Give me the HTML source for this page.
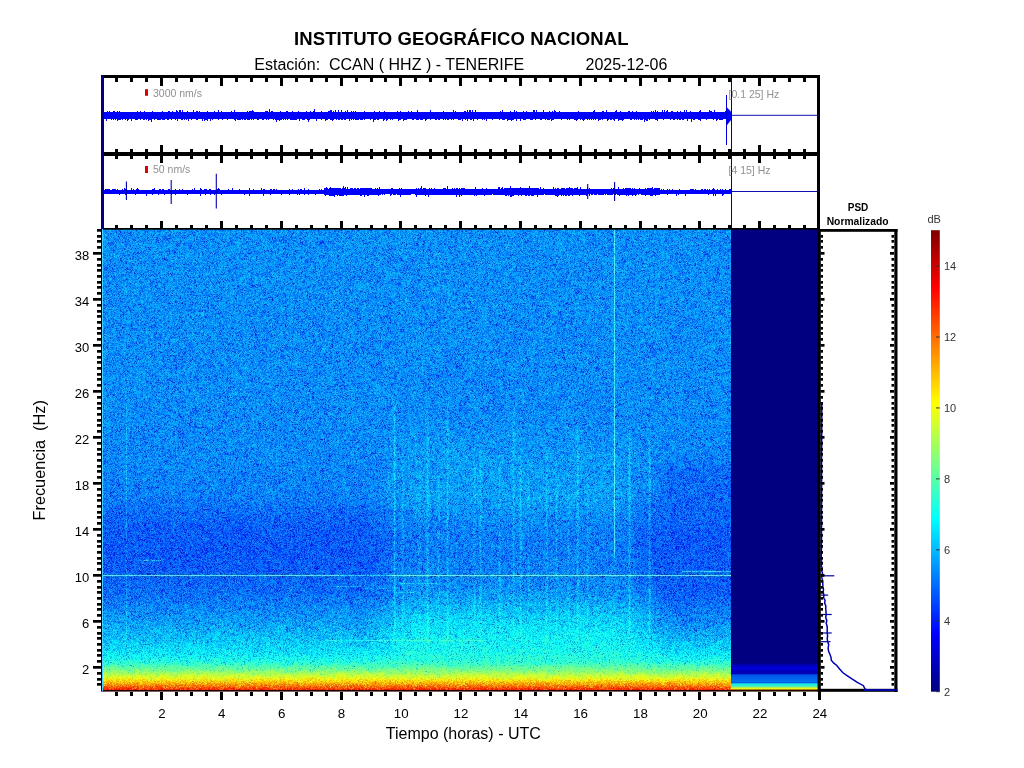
<!DOCTYPE html>
<html><head><meta charset="utf-8"><style>
html,body{margin:0;padding:0;background:#fff;}
body{width:1024px;height:768px;position:relative;overflow:hidden;font-family:"Liberation Sans",sans-serif;}
svg text{font-family:"Liberation Sans",sans-serif;}
#fb{position:absolute;left:101px;top:229px;width:630px;height:462px;background:linear-gradient(to bottom,#0a8cf3 0px,#0a8cf3 12px,#0a90f4 24px,#0a8ff4 36px,#0a91f5 48px,#0b93f6 60px,#0a91f5 72px,#0a91f5 84px,#0a8cf4 96px,#0a8ef5 108px,#0a8cf4 120px,#0a90f4 132px,#0a8ef5 144px,#0a8cf4 156px,#0a8df4 168px,#0a88f4 180px,#0a8ff5 192px,#0a8ff5 204px,#0b93f5 216px,#0a92f5 228px,#098cf4 240px,#0a8af3 252px,#0a88f4 264px,#097ef4 276px,#0a72f4 288px,#0a65f4 300px,#0a61f3 312px,#0961f4 324px,#0a65f4 336px,#0970ed 348px,#0a7af4 360px,#0a8ef5 372px,#0aa3f4 384px,#0cbbf4 396px,#10d0f1 408px,#15e0ed 420px,#16e2eb 422px,#19e5e9 424px,#1de7e3 426px,#21ede0 428px,#25efdc 430px,#2bf0d4 432px,#37f4c8 434px,#49f7b7 436px,#5efaa3 438px,#70f98f 440px,#88fa76 442px,#a4fb5a 444px,#c1fb40 446px,#d7f72a 448px,#eae818 450px,#f2cd0f 452px,#f4ab0c 454px,#f5850b 456px,#f55b0a 458px,#f03009 460px,#200000 461px);}
#nv{position:absolute;left:731px;top:229px;width:87px;height:462px;
background:linear-gradient(to bottom,#000080 0px,#000080 434px,#0000c8 437px,#0000dc 440px,#0000b4 442.5px,#0000b8 444.5px,#0058e8 446px,#0070f0 452.5px,#0060e0 453.5px,#20e8e8 455px,#30f0d0 457px,#b0f050 458.5px,#ffff00 460px,#600800 461px,#200000 462px);}
canvas{position:absolute;left:101px;top:229px;}
svg{position:absolute;left:0;top:0;}
</style></head><body>
<div id="fb"></div><div id="nv"></div>
<canvas id="cv" width="630" height="462"></canvas>
<svg width="1024" height="768" viewBox="0 0 1024 768">
<text x="461.30" y="44.80" font-size="18.5" text-anchor="middle" font-weight="bold" fill="#000" letter-spacing="0.1">INSTITUTO GEOGRÁFICO NACIONAL</text>
<text x="254.30" y="69.80" font-size="16" text-anchor="start" font-weight="normal" fill="#000" xml:space="preserve">Estación:  CCAN ( HHZ ) - TENERIFE</text>
<text x="585.50" y="69.80" font-size="16" text-anchor="start" font-weight="normal" fill="#000" >2025-12-06</text>
<path d="M102 112L102 112H103L103 112H104L104 112H105L105 112H106L106 112H107L107 111H108L108 112H109L109 111H110L110 112H111L111 112H112L112 112H113L113 111H114L114 111H115L115 112H116L116 112H117L117 111H118L118 112H119L119 111H120L120 112H121L121 112H122L122 112H123L123 112H124L124 112H125L125 112H126L126 112H127L127 112H128L128 112H129L129 112H130L130 112H131L131 112H132L132 112H133L133 112H134L134 112H135L135 112H136L136 112H137L137 111H138L138 112H139L139 112H140L140 111H141L141 112H142L142 112H143L143 112H144L144 111H145L145 112H146L146 112H147L147 112H148L148 112H149L149 112H150L150 112H151L151 112H152L152 111H153L153 112H154L154 112H155L155 112H156L156 112H157L157 112H158L158 112H159L159 112H160L160 112H161L161 112H162L162 111H163L163 112H164L164 112H165L165 112H166L166 112H167L167 112H168L168 111H169L169 111H170L170 112H171L171 112H172L172 111H173L173 112H174L174 112H175L175 112H176L176 110H177L177 111H178L178 112H179L179 110H180L180 110H181L181 112H182L182 110H183L183 112H184L184 112H185L185 112H186L186 112H187L187 111H188L188 112H189L189 112H190L190 112H191L191 112H192L192 112H193L193 110H194L194 112H195L195 112H196L196 111H197L197 111H198L198 112H199L199 111H200L200 112H201L201 112H202L202 112H203L203 112H204L204 112H205L205 112H206L206 112H207L207 111H208L208 112H209L209 112H210L210 112H211L211 112H212L212 112H213L213 112H214L214 111H215L215 112H216L216 112H217L217 112H218L218 110H219L219 112H220L220 112H221L221 111H222L222 112H223L223 112H224L224 112H225L225 112H226L226 112H227L227 112H228L228 112H229L229 112H230L230 112H231L231 111H232L232 112H233L233 112H234L234 110H235L235 112H236L236 112H237L237 112H238L238 112H239L239 112H240L240 112H241L241 112H242L242 112H243L243 112H244L244 112H245L245 112H246L246 112H247L247 111H248L248 112H249L249 111H250L250 111H251L251 111H252L252 110H253L253 111H254L254 112H255L255 112H256L256 112H257L257 112H258L258 112H259L259 112H260L260 112H261L261 112H262L262 112H263L263 112H264L264 112H265L265 111H266L266 111H267L267 111H268L268 112H269L269 109H270L270 112H271L271 111H272L272 111H273L273 112H274L274 112H275L275 112H276L276 112H277L277 112H278L278 112H279L279 112H280L280 111H281L281 112H282L282 112H283L283 112H284L284 112H285L285 112H286L286 111H287L287 111H288L288 112H289L289 112H290L290 112H291L291 112H292L292 111H293L293 112H294L294 112H295L295 112H296L296 112H297L297 112H298L298 111H299L299 112H300L300 112H301L301 112H302L302 112H303L303 112H304L304 112H305L305 112H306L306 111H307L307 112H308L308 112H309L309 112H310L310 111H311L311 112H312L312 112H313L313 111H314L314 109H315L315 112H316L316 112H317L317 112H318L318 112H319L319 112H320L320 112H321L321 111H322L322 112H323L323 112H324L324 112H325L325 112H326L326 112H327L327 112H328L328 111H329L329 111H330L330 110H331L331 110H332L332 112H333L333 111H334L334 112H335L335 110H336L336 112H337L337 112H338L338 110H339L339 112H340L340 112H341L341 110H342L342 112H343L343 112H344L344 112H345L345 111H346L346 112H347L347 110H348L348 112H349L349 112H350L350 112H351L351 111H352L352 112H353L353 111H354L354 112H355L355 111H356L356 112H357L357 112H358L358 112H359L359 112H360L360 112H361L361 112H362L362 112H363L363 112H364L364 111H365L365 112H366L366 112H367L367 112H368L368 112H369L369 112H370L370 112H371L371 112H372L372 112H373L373 112H374L374 111H375L375 112H376L376 112H377L377 112H378L378 112H379L379 111H380L380 112H381L381 112H382L382 112H383L383 112H384L384 111H385L385 112H386L386 112H387L387 112H388L388 112H389L389 112H390L390 112H391L391 112H392L392 112H393L393 112H394L394 112H395L395 112H396L396 112H397L397 111H398L398 112H399L399 112H400L400 111H401L401 112H402L402 112H403L403 112H404L404 112H405L405 112H406L406 112H407L407 112H408L408 111H409L409 112H410L410 112H411L411 111H412L412 112H413L413 112H414L414 112H415L415 112H416L416 112H417L417 110H418L418 112H419L419 112H420L420 112H421L421 112H422L422 112H423L423 112H424L424 112H425L425 112H426L426 112H427L427 112H428L428 112H429L429 112H430L430 110H431L431 112H432L432 112H433L433 112H434L434 112H435L435 112H436L436 112H437L437 112H438L438 112H439L439 112H440L440 112H441L441 112H442L442 112H443L443 111H444L444 112H445L445 112H446L446 112H447L447 112H448L448 112H449L449 112H450L450 112H451L451 112H452L452 112H453L453 110H454L454 112H455L455 111H456L456 112H457L457 112H458L458 112H459L459 112H460L460 112H461L461 112H462L462 112H463L463 112H464L464 111H465L465 111H466L466 112H467L467 110H468L468 112H469L469 110H470L470 110H471L471 112H472L472 110H473L473 112H474L474 112H475L475 110H476L476 112H477L477 112H478L478 112H479L479 112H480L480 112H481L481 112H482L482 112H483L483 112H484L484 112H485L485 112H486L486 112H487L487 112H488L488 112H489L489 112H490L490 112H491L491 112H492L492 112H493L493 112H494L494 112H495L495 112H496L496 112H497L497 112H498L498 112H499L499 112H500L500 111H501L501 112H502L502 110H503L503 112H504L504 112H505L505 112H506L506 112H507L507 112H508L508 112H509L509 112H510L510 111H511L511 112H512L512 112H513L513 112H514L514 110H515L515 112H516L516 111H517L517 112H518L518 112H519L519 112H520L520 112H521L521 112H522L522 112H523L523 111H524L524 112H525L525 112H526L526 111H527L527 112H528L528 112H529L529 112H530L530 112H531L531 112H532L532 112H533L533 110H534L534 110H535L535 112H536L536 110H537L537 112H538L538 112H539L539 112H540L540 112H541L541 112H542L542 112H543L543 110H544L544 112H545L545 112H546L546 112H547L547 112H548L548 112H549L549 111H550L550 112H551L551 112H552L552 111H553L553 112H554L554 110H555L555 111H556L556 112H557L557 112H558L558 112H559L559 111H560L560 112H561L561 112H562L562 112H563L563 112H564L564 112H565L565 112H566L566 112H567L567 112H568L568 112H569L569 112H570L570 112H571L571 112H572L572 112H573L573 112H574L574 112H575L575 112H576L576 112H577L577 112H578L578 111H579L579 112H580L580 112H581L581 112H582L582 112H583L583 112H584L584 112H585L585 112H586L586 112H587L587 112H588L588 112H589L589 112H590L590 112H591L591 112H592L592 112H593L593 111H594L594 110H595L595 112H596L596 112H597L597 112H598L598 112H599L599 112H600L600 112H601L601 112H602L602 111H603L603 111H604L604 112H605L605 112H606L606 110H607L607 112H608L608 112H609L609 112H610L610 112H611L611 112H612L612 112H613L613 112H614L614 112H615L615 111H616L616 110H617L617 112H618L618 112H619L619 112H620L620 111H621L621 112H622L622 112H623L623 112H624L624 112H625L625 112H626L626 112H627L627 112H628L628 111H629L629 111H630L630 112H631L631 112H632L632 111H633L633 112H634L634 112H635L635 112H636L636 111H637L637 112H638L638 112H639L639 112H640L640 112H641L641 112H642L642 112H643L643 112H644L644 112H645L645 112H646L646 112H647L647 112H648L648 112H649L649 112H650L650 112H651L651 111H652L652 112H653L653 111H654L654 112H655L655 110H656L656 112H657L657 111H658L658 112H659L659 112H660L660 112H661L661 112H662L662 110H663L663 112H664L664 110H665L665 112H666L666 111H667L667 110H668L668 112H669L669 112H670L670 112H671L671 111H672L672 111H673L673 112H674L674 112H675L675 112H676L676 112H677L677 111H678L678 112H679L679 112H680L680 111H681L681 112H682L682 112H683L683 112H684L684 110H685L685 112H686L686 110H687L687 112H688L688 112H689L689 112H690L690 111H691L691 112H692L692 112H693L693 112H694L694 112H695L695 112H696L696 112H697L697 112H698L698 112H699L699 111H700L700 110H701L701 112H702L702 112H703L703 112H704L704 112H705L705 112H706L706 112H707L707 112H708L708 112H709L709 110H710L710 111H711L711 111H712L712 112H713L713 112H714L714 110H715L715 112H716L716 112H717L717 112H718L718 112H719L719 112H720L720 112H721L721 112H722L722 112H723L723 112H724L724 112H725L725 111H726L726 112H727L727 111H728L728 111H729L729 112H730L730 112H731L731 112H732L732 119H731L731 119H730L730 119H729L729 119H728L728 119H727L727 119H726L726 119H725L725 119H724L724 119H723L723 120H722L722 120H721L721 120H720L720 120H719L719 119H718L718 120H717L717 121H716L716 119H715L715 119H714L714 120H713L713 119H712L712 119H711L711 119H710L710 119H709L709 119H708L708 119H707L707 120H706L706 119H705L705 119H704L704 119H703L703 119H702L702 119H701L701 121H700L700 120H699L699 120H698L698 119H697L697 119H696L696 119H695L695 120H694L694 120H693L693 119H692L692 122H691L691 119H690L690 119H689L689 119H688L688 121H687L687 119H686L686 119H685L685 119H684L684 120H683L683 120H682L682 119H681L681 120H680L680 120H679L679 119H678L678 120H677L677 119H676L676 119H675L675 120H674L674 120H673L673 119H672L672 119H671L671 120H670L670 119H669L669 119H668L668 119H667L667 119H666L666 119H665L665 119H664L664 120H663L663 119H662L662 119H661L661 119H660L660 119H659L659 119H658L658 121H657L657 120H656L656 120H655L655 119H654L654 119H653L653 119H652L652 119H651L651 119H650L650 120H649L649 119H648L648 121H647L647 121H646L646 120H645L645 122H644L644 119H643L643 120H642L642 120H641L641 120H640L640 119H639L639 120H638L638 119H637L637 120H636L636 119H635L635 120H634L634 119H633L633 119H632L632 120H631L631 120H630L630 119H629L629 119H628L628 119H627L627 119H626L626 119H625L625 119H624L624 120H623L623 121H622L622 120H621L621 120H620L620 120H619L619 121H618L618 119H617L617 119H616L616 119H615L615 121H614L614 120H613L613 119H612L612 120H611L611 120H610L610 119H609L609 120H608L608 121H607L607 119H606L606 119H605L605 119H604L604 119H603L603 120H602L602 119H601L601 120H600L600 120H599L599 121H598L598 119H597L597 119H596L596 120H595L595 119H594L594 120H593L593 119H592L592 120H591L591 119H590L590 120H589L589 119H588L588 120H587L587 119H586L586 119H585L585 120H584L584 121H583L583 120H582L582 119H581L581 120H580L580 119H579L579 119H578L578 120H577L577 121H576L576 120H575L575 120H574L574 119H573L573 119H572L572 119H571L571 119H570L570 120H569L569 119H568L568 120H567L567 119H566L566 119H565L565 119H564L564 119H563L563 119H562L562 120H561L561 119H560L560 119H559L559 119H558L558 119H557L557 119H556L556 119H555L555 119H554L554 120H553L553 120H552L552 121H551L551 119H550L550 120H549L549 120H548L548 120H547L547 119H546L546 120H545L545 119H544L544 119H543L543 119H542L542 120H541L541 120H540L540 119H539L539 119H538L538 119H537L537 119H536L536 120H535L535 119H534L534 119H533L533 120H532L532 120H531L531 120H530L530 119H529L529 119H528L528 119H527L527 119H526L526 120H525L525 120H524L524 120H523L523 119H522L522 119H521L521 121H520L520 119H519L519 119H518L518 119H517L517 121H516L516 119H515L515 119H514L514 120H513L513 120H512L512 121H511L511 120H510L510 120H509L509 120H508L508 121H507L507 119H506L506 119H505L505 120H504L504 120H503L503 120H502L502 119H501L501 119H500L500 120H499L499 119H498L498 119H497L497 119H496L496 119H495L495 119H494L494 119H493L493 120H492L492 119H491L491 119H490L490 119H489L489 119H488L488 119H487L487 121H486L486 119H485L485 120H484L484 119H483L483 120H482L482 119H481L481 119H480L480 119H479L479 119H478L478 120H477L477 119H476L476 119H475L475 119H474L474 121H473L473 119H472L472 120H471L471 120H470L470 119H469L469 119H468L468 121H467L467 119H466L466 120H465L465 119H464L464 119H463L463 121H462L462 119H461L461 120H460L460 120H459L459 120H458L458 119H457L457 119H456L456 119H455L455 119H454L454 120H453L453 119H452L452 120H451L451 119H450L450 119H449L449 120H448L448 120H447L447 119H446L446 120H445L445 119H444L444 120H443L443 119H442L442 119H441L441 119H440L440 120H439L439 120H438L438 119H437L437 120H436L436 120H435L435 119H434L434 119H433L433 119H432L432 119H431L431 120H430L430 119H429L429 119H428L428 119H427L427 120H426L426 121H425L425 119H424L424 119H423L423 120H422L422 120H421L421 120H420L420 119H419L419 120H418L418 120H417L417 120H416L416 119H415L415 119H414L414 120H413L413 120H412L412 119H411L411 119H410L410 119H409L409 119H408L408 119H407L407 120H406L406 120H405L405 120H404L404 121H403L403 119H402L402 119H401L401 120H400L400 120H399L399 121H398L398 119H397L397 119H396L396 119H395L395 119H394L394 119H393L393 120H392L392 119H391L391 120H390L390 119H389L389 119H388L388 120H387L387 121H386L386 119H385L385 120H384L384 121H383L383 119H382L382 119H381L381 119H380L380 119H379L379 120H378L378 120H377L377 119H376L376 120H375L375 120H374L374 122H373L373 119H372L372 119H371L371 120H370L370 119H369L369 119H368L368 119H367L367 119H366L366 119H365L365 120H364L364 119H363L363 120H362L362 120H361L361 120H360L360 119H359L359 120H358L358 120H357L357 120H356L356 120H355L355 119H354L354 120H353L353 119H352L352 120H351L351 119H350L350 121H349L349 119H348L348 119H347L347 119H346L346 120H345L345 120H344L344 119H343L343 120H342L342 120H341L341 119H340L340 120H339L339 120H338L338 119H337L337 120H336L336 119H335L335 119H334L334 120H333L333 121H332L332 120H331L331 120H330L330 119H329L329 119H328L328 120H327L327 120H326L326 121H325L325 119H324L324 119H323L323 119H322L322 120H321L321 119H320L320 119H319L319 119H318L318 119H317L317 121H316L316 119H315L315 119H314L314 119H313L313 119H312L312 119H311L311 119H310L310 120H309L309 122H308L308 120H307L307 119H306L306 119H305L305 120H304L304 120H303L303 120H302L302 119H301L301 119H300L300 121H299L299 119H298L298 119H297L297 120H296L296 120H295L295 120H294L294 120H293L293 120H292L292 120H291L291 120H290L290 119H289L289 119H288L288 120H287L287 119H286L286 120H285L285 119H284L284 120H283L283 119H282L282 120H281L281 120H280L280 121H279L279 120H278L278 120H277L277 122H276L276 120H275L275 119H274L274 120H273L273 119H272L272 119H271L271 119H270L270 119H269L269 120H268L268 119H267L267 120H266L266 119H265L265 119H264L264 120H263L263 120H262L262 119H261L261 119H260L260 119H259L259 120H258L258 120H257L257 119H256L256 119H255L255 119H254L254 120H253L253 119H252L252 120H251L251 119H250L250 120H249L249 120H248L248 120H247L247 119H246L246 120H245L245 120H244L244 119H243L243 120H242L242 119H241L241 120H240L240 120H239L239 120H238L238 120H237L237 119H236L236 121H235L235 120H234L234 119H233L233 119H232L232 119H231L231 119H230L230 119H229L229 119H228L228 120H227L227 119H226L226 119H225L225 119H224L224 119H223L223 120H222L222 119H221L221 119H220L220 119H219L219 120H218L218 119H217L217 119H216L216 119H215L215 119H214L214 119H213L213 120H212L212 119H211L211 121H210L210 119H209L209 119H208L208 121H207L207 120H206L206 120H205L205 121H204L204 119H203L203 121H202L202 119H201L201 119H200L200 119H199L199 119H198L198 120H197L197 120H196L196 119H195L195 119H194L194 119H193L193 119H192L192 120H191L191 119H190L190 119H189L189 121H188L188 119H187L187 120H186L186 119H185L185 120H184L184 119H183L183 120H182L182 120H181L181 119H180L180 119H179L179 119H178L178 121H177L177 119H176L176 120H175L175 119H174L174 119H173L173 119H172L172 120H171L171 119H170L170 119H169L169 120H168L168 120H167L167 119H166L166 119H165L165 120H164L164 120H163L163 120H162L162 119H161L161 120H160L160 120H159L159 120H158L158 120H157L157 119H156L156 119H155L155 120H154L154 119H153L153 119H152L152 122H151L151 120H150L150 120H149L149 121H148L148 119H147L147 120H146L146 119H145L145 120H144L144 120H143L143 119H142L142 119H141L141 120H140L140 119H139L139 119H138L138 120H137L137 120H136L136 120H135L135 119H134L134 119H133L133 119H132L132 121H131L131 119H130L130 119H129L129 120H128L128 121H127L127 119H126L126 120H125L125 119H124L124 119H123L123 120H122L122 119H121L121 120H120L120 120H119L119 120H118L118 121H117L117 119H116L116 120H115L115 119H114L114 120H113L113 119H112L112 120H111L111 119H110L110 119H109L109 119H108L108 119H107L107 121H106L106 119H105L105 119H104L104 120H103L103 120H102Z" fill="#0000ff" shape-rendering="crispEdges"/>
<path d="M726 106.5 L731 111.5 L731 120 L726 126.5Z" fill="#0000ff"/>
<path d="M726.5 95V145" stroke="#0000e0" stroke-width="1"/>
<path d="M102 190L102 190H103L103 190H104L104 190H105L105 189H106L106 189H107L107 189H108L108 189H109L109 189H110L110 190H111L111 190H112L112 189H113L113 189H114L114 189H115L115 189H116L116 190H117L117 189H118L118 190H119L119 190H120L120 190H121L121 190H122L122 189H123L123 190H124L124 188H125L125 189H126L126 189H127L127 190H128L128 190H129L129 190H130L130 190H131L131 188H132L132 190H133L133 189H134L134 190H135L135 190H136L136 189H137L137 188H138L138 189H139L139 190H140L140 190H141L141 190H142L142 190H143L143 190H144L144 190H145L145 190H146L146 190H147L147 190H148L148 190H149L149 190H150L150 190H151L151 190H152L152 189H153L153 189H154L154 188H155L155 190H156L156 190H157L157 190H158L158 190H159L159 189H160L160 189H161L161 190H162L162 189H163L163 189H164L164 190H165L165 190H166L166 190H167L167 190H168L168 189H169L169 189H170L170 190H171L171 190H172L172 190H173L173 190H174L174 190H175L175 189H176L176 190H177L177 190H178L178 190H179L179 189H180L180 190H181L181 190H182L182 189H183L183 190H184L184 190H185L185 190H186L186 190H187L187 190H188L188 190H189L189 190H190L190 190H191L191 190H192L192 189H193L193 190H194L194 188H195L195 190H196L196 190H197L197 190H198L198 190H199L199 190H200L200 188H201L201 189H202L202 190H203L203 190H204L204 189H205L205 189H206L206 189H207L207 190H208L208 190H209L209 189H210L210 189H211L211 190H212L212 190H213L213 190H214L214 190H215L215 190H216L216 190H217L217 189H218L218 188H219L219 189H220L220 190H221L221 190H222L222 190H223L223 190H224L224 190H225L225 190H226L226 190H227L227 190H228L228 189H229L229 190H230L230 190H231L231 190H232L232 188H233L233 190H234L234 190H235L235 190H236L236 190H237L237 190H238L238 190H239L239 189H240L240 190H241L241 190H242L242 190H243L243 190H244L244 190H245L245 190H246L246 190H247L247 190H248L248 190H249L249 188H250L250 190H251L251 190H252L252 190H253L253 189H254L254 190H255L255 190H256L256 190H257L257 190H258L258 190H259L259 190H260L260 190H261L261 188H262L262 190H263L263 189H264L264 189H265L265 190H266L266 190H267L267 190H268L268 190H269L269 190H270L270 189H271L271 189H272L272 190H273L273 189H274L274 189H275L275 190H276L276 189H277L277 190H278L278 190H279L279 190H280L280 190H281L281 190H282L282 190H283L283 190H284L284 190H285L285 190H286L286 190H287L287 190H288L288 190H289L289 189H290L290 190H291L291 190H292L292 189H293L293 190H294L294 190H295L295 190H296L296 190H297L297 190H298L298 189H299L299 190H300L300 189H301L301 189H302L302 190H303L303 190H304L304 188H305L305 190H306L306 190H307L307 190H308L308 189H309L309 190H310L310 190H311L311 190H312L312 190H313L313 190H314L314 190H315L315 190H316L316 190H317L317 190H318L318 190H319L319 189H320L320 190H321L321 189H322L322 190H323L323 190H324L324 188H325L325 188H326L326 187H327L327 188H328L328 189H329L329 188H330L330 187H331L331 188H332L332 188H333L333 188H334L334 188H335L335 188H336L336 188H337L337 188H338L338 188H339L339 188H340L340 188H341L341 189H342L342 188H343L343 186H344L344 188H345L345 187H346L346 189H347L347 187H348L348 189H349L349 189H350L350 188H351L351 188H352L352 188H353L353 189H354L354 188H355L355 188H356L356 189H357L357 188H358L358 188H359L359 189H360L360 188H361L361 188H362L362 188H363L363 188H364L364 188H365L365 188H366L366 188H367L367 188H368L368 188H369L369 188H370L370 188H371L371 188H372L372 189H373L373 189H374L374 189H375L375 188H376L376 189H377L377 188H378L378 189H379L379 187H380L380 189H381L381 189H382L382 189H383L383 189H384L384 189H385L385 189H386L386 189H387L387 189H388L388 189H389L389 189H390L390 189H391L391 188H392L392 188H393L393 189H394L394 189H395L395 189H396L396 189H397L397 189H398L398 189H399L399 188H400L400 189H401L401 188H402L402 189H403L403 189H404L404 189H405L405 189H406L406 189H407L407 189H408L408 189H409L409 189H410L410 189H411L411 189H412L412 189H413L413 189H414L414 189H415L415 189H416L416 188H417L417 189H418L418 188H419L419 189H420L420 188H421L421 186H422L422 189H423L423 188H424L424 188H425L425 188H426L426 189H427L427 189H428L428 189H429L429 188H430L430 189H431L431 188H432L432 189H433L433 189H434L434 188H435L435 189H436L436 189H437L437 189H438L438 189H439L439 189H440L440 189H441L441 189H442L442 189H443L443 188H444L444 188H445L445 188H446L446 189H447L447 186H448L448 189H449L449 189H450L450 189H451L451 189H452L452 188H453L453 189H454L454 188H455L455 189H456L456 188H457L457 188H458L458 189H459L459 188H460L460 189H461L461 188H462L462 188H463L463 188H464L464 188H465L465 189H466L466 189H467L467 189H468L468 189H469L469 189H470L470 189H471L471 189H472L472 189H473L473 189H474L474 189H475L475 187H476L476 189H477L477 189H478L478 189H479L479 189H480L480 189H481L481 189H482L482 188H483L483 189H484L484 189H485L485 189H486L486 188H487L487 189H488L488 189H489L489 189H490L490 189H491L491 189H492L492 189H493L493 189H494L494 189H495L495 189H496L496 189H497L497 189H498L498 187H499L499 187H500L500 189H501L501 188H502L502 187H503L503 189H504L504 188H505L505 188H506L506 188H507L507 188H508L508 188H509L509 188H510L510 186H511L511 188H512L512 188H513L513 188H514L514 188H515L515 188H516L516 188H517L517 188H518L518 188H519L519 188H520L520 187H521L521 188H522L522 188H523L523 188H524L524 188H525L525 188H526L526 188H527L527 188H528L528 188H529L529 186H530L530 188H531L531 188H532L532 188H533L533 188H534L534 188H535L535 188H536L536 188H537L537 188H538L538 188H539L539 189H540L540 187H541L541 189H542L542 189H543L543 188H544L544 189H545L545 189H546L546 189H547L547 189H548L548 189H549L549 189H550L550 189H551L551 189H552L552 189H553L553 187H554L554 189H555L555 188H556L556 189H557L557 188H558L558 188H559L559 189H560L560 189H561L561 188H562L562 188H563L563 188H564L564 188H565L565 189H566L566 188H567L567 188H568L568 188H569L569 187H570L570 188H571L571 188H572L572 188H573L573 189H574L574 188H575L575 188H576L576 188H577L577 187H578L578 189H579L579 189H580L580 187H581L581 189H582L582 189H583L583 189H584L584 189H585L585 189H586L586 189H587L587 187H588L588 189H589L589 188H590L590 189H591L591 189H592L592 189H593L593 189H594L594 189H595L595 189H596L596 189H597L597 189H598L598 189H599L599 189H600L600 189H601L601 189H602L602 189H603L603 189H604L604 189H605L605 189H606L606 189H607L607 189H608L608 189H609L609 189H610L610 189H611L611 188H612L612 189H613L613 188H614L614 188H615L615 189H616L616 189H617L617 189H618L618 187H619L619 189H620L620 189H621L621 189H622L622 189H623L623 188H624L624 189H625L625 188H626L626 188H627L627 188H628L628 188H629L629 188H630L630 188H631L631 189H632L632 188H633L633 189H634L634 188H635L635 189H636L636 189H637L637 189H638L638 189H639L639 188H640L640 189H641L641 189H642L642 189H643L643 189H644L644 189H645L645 188H646L646 189H647L647 188H648L648 188H649L649 188H650L650 188H651L651 188H652L652 187H653L653 189H654L654 188H655L655 188H656L656 188H657L657 188H658L658 188H659L659 188H660L660 190H661L661 189H662L662 190H663L663 189H664L664 190H665L665 190H666L666 190H667L667 189H668L668 190H669L669 189H670L670 190H671L671 190H672L672 189H673L673 190H674L674 190H675L675 190H676L676 190H677L677 190H678L678 190H679L679 189H680L680 190H681L681 190H682L682 190H683L683 190H684L684 190H685L685 190H686L686 190H687L687 190H688L688 190H689L689 190H690L690 189H691L691 189H692L692 189H693L693 189H694L694 190H695L695 189H696L696 190H697L697 190H698L698 190H699L699 190H700L700 190H701L701 189H702L702 189H703L703 190H704L704 189H705L705 189H706L706 190H707L707 189H708L708 190H709L709 189H710L710 190H711L711 190H712L712 189H713L713 188H714L714 189H715L715 190H716L716 190H717L717 189H718L718 190H719L719 190H720L720 189H721L721 190H722L722 189H723L723 190H724L724 190H725L725 189H726L726 190H727L727 190H728L728 190H729L729 189H730L730 189H731L731 190H732L732 194H731L731 194H730L730 194H729L729 194H728L728 194H727L727 194H726L726 194H725L725 194H724L724 195H723L723 196H722L722 194H721L721 194H720L720 194H719L719 194H718L718 194H717L717 194H716L716 196H715L715 194H714L714 196H713L713 194H712L712 194H711L711 194H710L710 194H709L709 195H708L708 194H707L707 194H706L706 194H705L705 194H704L704 194H703L703 194H702L702 194H701L701 194H700L700 194H699L699 194H698L698 194H697L697 194H696L696 194H695L695 194H694L694 194H693L693 194H692L692 194H691L691 194H690L690 194H689L689 194H688L688 194H687L687 194H686L686 196H685L685 194H684L684 194H683L683 194H682L682 194H681L681 194H680L680 194H679L679 195H678L678 194H677L677 196H676L676 194H675L675 194H674L674 194H673L673 194H672L672 194H671L671 194H670L670 194H669L669 194H668L668 195H667L667 194H666L666 194H665L665 194H664L664 194H663L663 194H662L662 194H661L661 194H660L660 195H659L659 195H658L658 195H657L657 195H656L656 196H655L655 195H654L654 195H653L653 196H652L652 196H651L651 196H650L650 195H649L649 195H648L648 195H647L647 195H646L646 196H645L645 195H644L644 195H643L643 195H642L642 195H641L641 194H640L640 194H639L639 195H638L638 194H637L637 195H636L636 196H635L635 195H634L634 195H633L633 196H632L632 195H631L631 195H630L630 195H629L629 196H628L628 195H627L627 196H626L626 195H625L625 195H624L624 195H623L623 195H622L622 195H621L621 195H620L620 196H619L619 195H618L618 195H617L617 194H616L616 195H615L615 195H614L614 194H613L613 195H612L612 195H611L611 195H610L610 195H609L609 195H608L608 195H607L607 194H606L606 195H605L605 194H604L604 195H603L603 195H602L602 195H601L601 195H600L600 195H599L599 195H598L598 194H597L597 195H596L596 195H595L595 195H594L594 194H593L593 195H592L592 195H591L591 194H590L590 196H589L589 194H588L588 195H587L587 196H586L586 195H585L585 195H584L584 195H583L583 195H582L582 195H581L581 195H580L580 196H579L579 195H578L578 195H577L577 195H576L576 195H575L575 195H574L574 195H573L573 196H572L572 195H571L571 195H570L570 196H569L569 196H568L568 195H567L567 196H566L566 196H565L565 195H564L564 196H563L563 195H562L562 196H561L561 195H560L560 195H559L559 196H558L558 197H557L557 196H556L556 196H555L555 195H554L554 195H553L553 195H552L552 195H551L551 195H550L550 195H549L549 195H548L548 195H547L547 195H546L546 195H545L545 194H544L544 195H543L543 195H542L542 195H541L541 195H540L540 195H539L539 195H538L538 197H537L537 195H536L536 195H535L535 195H534L534 196H533L533 196H532L532 196H531L531 195H530L530 196H529L529 196H528L528 195H527L527 196H526L526 196H525L525 195H524L524 195H523L523 195H522L522 196H521L521 195H520L520 195H519L519 196H518L518 195H517L517 195H516L516 195H515L515 195H514L514 196H513L513 196H512L512 197H511L511 197H510L510 195H509L509 196H508L508 195H507L507 196H506L506 196H505L505 195H504L504 195H503L503 195H502L502 195H501L501 195H500L500 195H499L499 195H498L498 195H497L497 195H496L496 195H495L495 195H494L494 195H493L493 194H492L492 195H491L491 195H490L490 195H489L489 195H488L488 195H487L487 195H486L486 195H485L485 196H484L484 195H483L483 195H482L482 195H481L481 195H480L480 195H479L479 195H478L478 195H477L477 196H476L476 195H475L475 196H474L474 195H473L473 195H472L472 195H471L471 195H470L470 195H469L469 195H468L468 195H467L467 195H466L466 195H465L465 195H464L464 195H463L463 195H462L462 196H461L461 195H460L460 197H459L459 195H458L458 195H457L457 197H456L456 195H455L455 195H454L454 195H453L453 195H452L452 195H451L451 195H450L450 195H449L449 195H448L448 195H447L447 195H446L446 195H445L445 195H444L444 195H443L443 195H442L442 195H441L441 195H440L440 195H439L439 195H438L438 195H437L437 195H436L436 195H435L435 195H434L434 195H433L433 195H432L432 195H431L431 195H430L430 195H429L429 197H428L428 195H427L427 195H426L426 196H425L425 195H424L424 195H423L423 195H422L422 195H421L421 195H420L420 195H419L419 195H418L418 195H417L417 197H416L416 195H415L415 194H414L414 194H413L413 194H412L412 194H411L411 195H410L410 195H409L409 195H408L408 195H407L407 195H406L406 195H405L405 195H404L404 195H403L403 195H402L402 195H401L401 197H400L400 195H399L399 195H398L398 195H397L397 194H396L396 195H395L395 195H394L394 195H393L393 194H392L392 195H391L391 196H390L390 194H389L389 194H388L388 194H387L387 194H386L386 194H385L385 195H384L384 194H383L383 195H382L382 194H381L381 195H380L380 195H379L379 196H378L378 195H377L377 195H376L376 195H375L375 195H374L374 195H373L373 195H372L372 195H371L371 195H370L370 195H369L369 196H368L368 196H367L367 195H366L366 195H365L365 197H364L364 195H363L363 195H362L362 196H361L361 196H360L360 195H359L359 195H358L358 195H357L357 195H356L356 195H355L355 195H354L354 195H353L353 195H352L352 195H351L351 195H350L350 195H349L349 195H348L348 195H347L347 196H346L346 195H345L345 195H344L344 196H343L343 196H342L342 196H341L341 196H340L340 196H339L339 195H338L338 196H337L337 195H336L336 195H335L335 197H334L334 196H333L333 196H332L332 196H331L331 196H330L330 196H329L329 195H328L328 195H327L327 195H326L326 196H325L325 195H324L324 194H323L323 194H322L322 194H321L321 194H320L320 194H319L319 194H318L318 194H317L317 194H316L316 195H315L315 194H314L314 194H313L313 194H312L312 194H311L311 194H310L310 194H309L309 195H308L308 194H307L307 194H306L306 194H305L305 195H304L304 194H303L303 194H302L302 194H301L301 194H300L300 195H299L299 194H298L298 195H297L297 194H296L296 194H295L295 194H294L294 194H293L293 194H292L292 194H291L291 194H290L290 195H289L289 194H288L288 194H287L287 194H286L286 194H285L285 194H284L284 194H283L283 194H282L282 195H281L281 194H280L280 194H279L279 194H278L278 194H277L277 194H276L276 194H275L275 194H274L274 194H273L273 194H272L272 194H271L271 195H270L270 194H269L269 194H268L268 194H267L267 194H266L266 194H265L265 194H264L264 196H263L263 194H262L262 194H261L261 194H260L260 194H259L259 194H258L258 194H257L257 194H256L256 194H255L255 194H254L254 194H253L253 194H252L252 194H251L251 194H250L250 196H249L249 194H248L248 194H247L247 194H246L246 194H245L245 195H244L244 194H243L243 194H242L242 194H241L241 194H240L240 194H239L239 194H238L238 194H237L237 194H236L236 194H235L235 194H234L234 194H233L233 194H232L232 194H231L231 194H230L230 194H229L229 194H228L228 194H227L227 194H226L226 194H225L225 194H224L224 194H223L223 194H222L222 195H221L221 194H220L220 194H219L219 194H218L218 194H217L217 194H216L216 194H215L215 195H214L214 194H213L213 194H212L212 194H211L211 195H210L210 194H209L209 194H208L208 194H207L207 194H206L206 195H205L205 194H204L204 194H203L203 194H202L202 194H201L201 196H200L200 194H199L199 194H198L198 194H197L197 194H196L196 194H195L195 194H194L194 194H193L193 194H192L192 194H191L191 194H190L190 194H189L189 194H188L188 195H187L187 194H186L186 194H185L185 194H184L184 194H183L183 194H182L182 194H181L181 194H180L180 194H179L179 194H178L178 194H177L177 194H176L176 195H175L175 194H174L174 194H173L173 194H172L172 195H171L171 194H170L170 194H169L169 194H168L168 194H167L167 194H166L166 194H165L165 195H164L164 194H163L163 194H162L162 194H161L161 194H160L160 194H159L159 195H158L158 194H157L157 194H156L156 194H155L155 194H154L154 194H153L153 195H152L152 194H151L151 194H150L150 194H149L149 194H148L148 194H147L147 196H146L146 194H145L145 194H144L144 194H143L143 194H142L142 194H141L141 194H140L140 194H139L139 194H138L138 194H137L137 194H136L136 195H135L135 194H134L134 194H133L133 194H132L132 194H131L131 194H130L130 194H129L129 194H128L128 194H127L127 194H126L126 195H125L125 194H124L124 194H123L123 194H122L122 194H121L121 194H120L120 195H119L119 194H118L118 194H117L117 194H116L116 194H115L115 194H114L114 194H113L113 194H112L112 194H111L111 194H110L110 194H109L109 194H108L108 194H107L107 194H106L106 194H105L105 194H104L104 194H103L103 194H102Z" fill="#0000ff" shape-rendering="crispEdges"/>
<path d="M126.4 181.6V200" stroke="#0000b0" stroke-width="1.1"/>
<path d="M171.2 180V204" stroke="#0000b0" stroke-width="1.1"/>
<path d="M216.3 173.7V208.5" stroke="#0000b0" stroke-width="1.1"/>
<path d="M587.7 184V199" stroke="#0000b0" stroke-width="1.1"/>
<path d="M614.6 182V201" stroke="#0000b0" stroke-width="1.1"/>
<path d="M731 115.3H818M731 191.5H818" stroke="#1010b0" stroke-width="1"/>
<path d="M731.5 76V229" stroke="#0000a0" stroke-width="1"/>
<rect x="101.00" y="75.00" width="719.00" height="3.00" fill="#000"/>
<rect x="101.00" y="152.00" width="719.00" height="4.00" fill="#000"/>
<rect x="101.00" y="228.00" width="719.00" height="1.70" fill="#000"/>
<rect x="817.00" y="75.00" width="3.00" height="154.00" fill="#000"/>
<rect x="101.00" y="75.00" width="3.00" height="154.00" fill="#000080"/>
<rect x="115.00" y="78.00" width="3.00" height="4.00" fill="#000"/>
<rect x="115.00" y="149.00" width="3.00" height="3.00" fill="#000"/>
<rect x="115.00" y="156.00" width="3.00" height="3.00" fill="#000"/>
<rect x="115.00" y="225.00" width="3.00" height="3.00" fill="#000"/>
<rect x="130.00" y="78.00" width="3.00" height="4.00" fill="#000"/>
<rect x="130.00" y="149.00" width="3.00" height="3.00" fill="#000"/>
<rect x="130.00" y="156.00" width="3.00" height="3.00" fill="#000"/>
<rect x="130.00" y="225.00" width="3.00" height="3.00" fill="#000"/>
<rect x="145.00" y="78.00" width="3.00" height="4.00" fill="#000"/>
<rect x="145.00" y="149.00" width="3.00" height="3.00" fill="#000"/>
<rect x="145.00" y="156.00" width="3.00" height="3.00" fill="#000"/>
<rect x="145.00" y="225.00" width="3.00" height="3.00" fill="#000"/>
<rect x="160.00" y="78.00" width="3.00" height="8.00" fill="#000"/>
<rect x="160.00" y="145.00" width="3.00" height="7.00" fill="#000"/>
<rect x="160.00" y="156.00" width="3.00" height="7.00" fill="#000"/>
<rect x="160.00" y="221.00" width="3.00" height="7.00" fill="#000"/>
<rect x="175.00" y="78.00" width="3.00" height="4.00" fill="#000"/>
<rect x="175.00" y="149.00" width="3.00" height="3.00" fill="#000"/>
<rect x="175.00" y="156.00" width="3.00" height="3.00" fill="#000"/>
<rect x="175.00" y="225.00" width="3.00" height="3.00" fill="#000"/>
<rect x="190.00" y="78.00" width="3.00" height="4.00" fill="#000"/>
<rect x="190.00" y="149.00" width="3.00" height="3.00" fill="#000"/>
<rect x="190.00" y="156.00" width="3.00" height="3.00" fill="#000"/>
<rect x="190.00" y="225.00" width="3.00" height="3.00" fill="#000"/>
<rect x="205.00" y="78.00" width="3.00" height="4.00" fill="#000"/>
<rect x="205.00" y="149.00" width="3.00" height="3.00" fill="#000"/>
<rect x="205.00" y="156.00" width="3.00" height="3.00" fill="#000"/>
<rect x="205.00" y="225.00" width="3.00" height="3.00" fill="#000"/>
<rect x="220.00" y="78.00" width="3.00" height="8.00" fill="#000"/>
<rect x="220.00" y="145.00" width="3.00" height="7.00" fill="#000"/>
<rect x="220.00" y="156.00" width="3.00" height="7.00" fill="#000"/>
<rect x="220.00" y="221.00" width="3.00" height="7.00" fill="#000"/>
<rect x="235.00" y="78.00" width="3.00" height="4.00" fill="#000"/>
<rect x="235.00" y="149.00" width="3.00" height="3.00" fill="#000"/>
<rect x="235.00" y="156.00" width="3.00" height="3.00" fill="#000"/>
<rect x="235.00" y="225.00" width="3.00" height="3.00" fill="#000"/>
<rect x="250.00" y="78.00" width="3.00" height="4.00" fill="#000"/>
<rect x="250.00" y="149.00" width="3.00" height="3.00" fill="#000"/>
<rect x="250.00" y="156.00" width="3.00" height="3.00" fill="#000"/>
<rect x="250.00" y="225.00" width="3.00" height="3.00" fill="#000"/>
<rect x="265.00" y="78.00" width="3.00" height="4.00" fill="#000"/>
<rect x="265.00" y="149.00" width="3.00" height="3.00" fill="#000"/>
<rect x="265.00" y="156.00" width="3.00" height="3.00" fill="#000"/>
<rect x="265.00" y="225.00" width="3.00" height="3.00" fill="#000"/>
<rect x="280.00" y="78.00" width="3.00" height="8.00" fill="#000"/>
<rect x="280.00" y="145.00" width="3.00" height="7.00" fill="#000"/>
<rect x="280.00" y="156.00" width="3.00" height="7.00" fill="#000"/>
<rect x="280.00" y="221.00" width="3.00" height="7.00" fill="#000"/>
<rect x="295.00" y="78.00" width="3.00" height="4.00" fill="#000"/>
<rect x="295.00" y="149.00" width="3.00" height="3.00" fill="#000"/>
<rect x="295.00" y="156.00" width="3.00" height="3.00" fill="#000"/>
<rect x="295.00" y="225.00" width="3.00" height="3.00" fill="#000"/>
<rect x="310.00" y="78.00" width="3.00" height="4.00" fill="#000"/>
<rect x="310.00" y="149.00" width="3.00" height="3.00" fill="#000"/>
<rect x="310.00" y="156.00" width="3.00" height="3.00" fill="#000"/>
<rect x="310.00" y="225.00" width="3.00" height="3.00" fill="#000"/>
<rect x="325.00" y="78.00" width="3.00" height="4.00" fill="#000"/>
<rect x="325.00" y="149.00" width="3.00" height="3.00" fill="#000"/>
<rect x="325.00" y="156.00" width="3.00" height="3.00" fill="#000"/>
<rect x="325.00" y="225.00" width="3.00" height="3.00" fill="#000"/>
<rect x="340.00" y="78.00" width="3.00" height="8.00" fill="#000"/>
<rect x="340.00" y="145.00" width="3.00" height="7.00" fill="#000"/>
<rect x="340.00" y="156.00" width="3.00" height="7.00" fill="#000"/>
<rect x="340.00" y="221.00" width="3.00" height="7.00" fill="#000"/>
<rect x="355.00" y="78.00" width="3.00" height="4.00" fill="#000"/>
<rect x="355.00" y="149.00" width="3.00" height="3.00" fill="#000"/>
<rect x="355.00" y="156.00" width="3.00" height="3.00" fill="#000"/>
<rect x="355.00" y="225.00" width="3.00" height="3.00" fill="#000"/>
<rect x="370.00" y="78.00" width="3.00" height="4.00" fill="#000"/>
<rect x="370.00" y="149.00" width="3.00" height="3.00" fill="#000"/>
<rect x="370.00" y="156.00" width="3.00" height="3.00" fill="#000"/>
<rect x="370.00" y="225.00" width="3.00" height="3.00" fill="#000"/>
<rect x="384.00" y="78.00" width="3.00" height="4.00" fill="#000"/>
<rect x="384.00" y="149.00" width="3.00" height="3.00" fill="#000"/>
<rect x="384.00" y="156.00" width="3.00" height="3.00" fill="#000"/>
<rect x="384.00" y="225.00" width="3.00" height="3.00" fill="#000"/>
<rect x="399.00" y="78.00" width="3.00" height="8.00" fill="#000"/>
<rect x="399.00" y="145.00" width="3.00" height="7.00" fill="#000"/>
<rect x="399.00" y="156.00" width="3.00" height="7.00" fill="#000"/>
<rect x="399.00" y="221.00" width="3.00" height="7.00" fill="#000"/>
<rect x="414.00" y="78.00" width="3.00" height="4.00" fill="#000"/>
<rect x="414.00" y="149.00" width="3.00" height="3.00" fill="#000"/>
<rect x="414.00" y="156.00" width="3.00" height="3.00" fill="#000"/>
<rect x="414.00" y="225.00" width="3.00" height="3.00" fill="#000"/>
<rect x="429.00" y="78.00" width="3.00" height="4.00" fill="#000"/>
<rect x="429.00" y="149.00" width="3.00" height="3.00" fill="#000"/>
<rect x="429.00" y="156.00" width="3.00" height="3.00" fill="#000"/>
<rect x="429.00" y="225.00" width="3.00" height="3.00" fill="#000"/>
<rect x="444.00" y="78.00" width="3.00" height="4.00" fill="#000"/>
<rect x="444.00" y="149.00" width="3.00" height="3.00" fill="#000"/>
<rect x="444.00" y="156.00" width="3.00" height="3.00" fill="#000"/>
<rect x="444.00" y="225.00" width="3.00" height="3.00" fill="#000"/>
<rect x="459.00" y="78.00" width="3.00" height="8.00" fill="#000"/>
<rect x="459.00" y="145.00" width="3.00" height="7.00" fill="#000"/>
<rect x="459.00" y="156.00" width="3.00" height="7.00" fill="#000"/>
<rect x="459.00" y="221.00" width="3.00" height="7.00" fill="#000"/>
<rect x="474.00" y="78.00" width="3.00" height="4.00" fill="#000"/>
<rect x="474.00" y="149.00" width="3.00" height="3.00" fill="#000"/>
<rect x="474.00" y="156.00" width="3.00" height="3.00" fill="#000"/>
<rect x="474.00" y="225.00" width="3.00" height="3.00" fill="#000"/>
<rect x="489.00" y="78.00" width="3.00" height="4.00" fill="#000"/>
<rect x="489.00" y="149.00" width="3.00" height="3.00" fill="#000"/>
<rect x="489.00" y="156.00" width="3.00" height="3.00" fill="#000"/>
<rect x="489.00" y="225.00" width="3.00" height="3.00" fill="#000"/>
<rect x="504.00" y="78.00" width="3.00" height="4.00" fill="#000"/>
<rect x="504.00" y="149.00" width="3.00" height="3.00" fill="#000"/>
<rect x="504.00" y="156.00" width="3.00" height="3.00" fill="#000"/>
<rect x="504.00" y="225.00" width="3.00" height="3.00" fill="#000"/>
<rect x="519.00" y="78.00" width="3.00" height="8.00" fill="#000"/>
<rect x="519.00" y="145.00" width="3.00" height="7.00" fill="#000"/>
<rect x="519.00" y="156.00" width="3.00" height="7.00" fill="#000"/>
<rect x="519.00" y="221.00" width="3.00" height="7.00" fill="#000"/>
<rect x="534.00" y="78.00" width="3.00" height="4.00" fill="#000"/>
<rect x="534.00" y="149.00" width="3.00" height="3.00" fill="#000"/>
<rect x="534.00" y="156.00" width="3.00" height="3.00" fill="#000"/>
<rect x="534.00" y="225.00" width="3.00" height="3.00" fill="#000"/>
<rect x="549.00" y="78.00" width="3.00" height="4.00" fill="#000"/>
<rect x="549.00" y="149.00" width="3.00" height="3.00" fill="#000"/>
<rect x="549.00" y="156.00" width="3.00" height="3.00" fill="#000"/>
<rect x="549.00" y="225.00" width="3.00" height="3.00" fill="#000"/>
<rect x="564.00" y="78.00" width="3.00" height="4.00" fill="#000"/>
<rect x="564.00" y="149.00" width="3.00" height="3.00" fill="#000"/>
<rect x="564.00" y="156.00" width="3.00" height="3.00" fill="#000"/>
<rect x="564.00" y="225.00" width="3.00" height="3.00" fill="#000"/>
<rect x="579.00" y="78.00" width="3.00" height="8.00" fill="#000"/>
<rect x="579.00" y="145.00" width="3.00" height="7.00" fill="#000"/>
<rect x="579.00" y="156.00" width="3.00" height="7.00" fill="#000"/>
<rect x="579.00" y="221.00" width="3.00" height="7.00" fill="#000"/>
<rect x="594.00" y="78.00" width="3.00" height="4.00" fill="#000"/>
<rect x="594.00" y="149.00" width="3.00" height="3.00" fill="#000"/>
<rect x="594.00" y="156.00" width="3.00" height="3.00" fill="#000"/>
<rect x="594.00" y="225.00" width="3.00" height="3.00" fill="#000"/>
<rect x="609.00" y="78.00" width="3.00" height="4.00" fill="#000"/>
<rect x="609.00" y="149.00" width="3.00" height="3.00" fill="#000"/>
<rect x="609.00" y="156.00" width="3.00" height="3.00" fill="#000"/>
<rect x="609.00" y="225.00" width="3.00" height="3.00" fill="#000"/>
<rect x="624.00" y="78.00" width="3.00" height="4.00" fill="#000"/>
<rect x="624.00" y="149.00" width="3.00" height="3.00" fill="#000"/>
<rect x="624.00" y="156.00" width="3.00" height="3.00" fill="#000"/>
<rect x="624.00" y="225.00" width="3.00" height="3.00" fill="#000"/>
<rect x="639.00" y="78.00" width="3.00" height="8.00" fill="#000"/>
<rect x="639.00" y="145.00" width="3.00" height="7.00" fill="#000"/>
<rect x="639.00" y="156.00" width="3.00" height="7.00" fill="#000"/>
<rect x="639.00" y="221.00" width="3.00" height="7.00" fill="#000"/>
<rect x="654.00" y="78.00" width="3.00" height="4.00" fill="#000"/>
<rect x="654.00" y="149.00" width="3.00" height="3.00" fill="#000"/>
<rect x="654.00" y="156.00" width="3.00" height="3.00" fill="#000"/>
<rect x="654.00" y="225.00" width="3.00" height="3.00" fill="#000"/>
<rect x="668.00" y="78.00" width="3.00" height="4.00" fill="#000"/>
<rect x="668.00" y="149.00" width="3.00" height="3.00" fill="#000"/>
<rect x="668.00" y="156.00" width="3.00" height="3.00" fill="#000"/>
<rect x="668.00" y="225.00" width="3.00" height="3.00" fill="#000"/>
<rect x="683.00" y="78.00" width="3.00" height="4.00" fill="#000"/>
<rect x="683.00" y="149.00" width="3.00" height="3.00" fill="#000"/>
<rect x="683.00" y="156.00" width="3.00" height="3.00" fill="#000"/>
<rect x="683.00" y="225.00" width="3.00" height="3.00" fill="#000"/>
<rect x="698.00" y="78.00" width="3.00" height="8.00" fill="#000"/>
<rect x="698.00" y="145.00" width="3.00" height="7.00" fill="#000"/>
<rect x="698.00" y="156.00" width="3.00" height="7.00" fill="#000"/>
<rect x="698.00" y="221.00" width="3.00" height="7.00" fill="#000"/>
<rect x="713.00" y="78.00" width="3.00" height="4.00" fill="#000"/>
<rect x="713.00" y="149.00" width="3.00" height="3.00" fill="#000"/>
<rect x="713.00" y="156.00" width="3.00" height="3.00" fill="#000"/>
<rect x="713.00" y="225.00" width="3.00" height="3.00" fill="#000"/>
<rect x="728.00" y="78.00" width="3.00" height="4.00" fill="#000"/>
<rect x="728.00" y="149.00" width="3.00" height="3.00" fill="#000"/>
<rect x="728.00" y="156.00" width="3.00" height="3.00" fill="#000"/>
<rect x="728.00" y="225.00" width="3.00" height="3.00" fill="#000"/>
<rect x="743.00" y="78.00" width="3.00" height="4.00" fill="#000"/>
<rect x="743.00" y="149.00" width="3.00" height="3.00" fill="#000"/>
<rect x="743.00" y="156.00" width="3.00" height="3.00" fill="#000"/>
<rect x="743.00" y="225.00" width="3.00" height="3.00" fill="#000"/>
<rect x="758.00" y="78.00" width="3.00" height="8.00" fill="#000"/>
<rect x="758.00" y="145.00" width="3.00" height="7.00" fill="#000"/>
<rect x="758.00" y="156.00" width="3.00" height="7.00" fill="#000"/>
<rect x="758.00" y="221.00" width="3.00" height="7.00" fill="#000"/>
<rect x="773.00" y="78.00" width="3.00" height="4.00" fill="#000"/>
<rect x="773.00" y="149.00" width="3.00" height="3.00" fill="#000"/>
<rect x="773.00" y="156.00" width="3.00" height="3.00" fill="#000"/>
<rect x="773.00" y="225.00" width="3.00" height="3.00" fill="#000"/>
<rect x="788.00" y="78.00" width="3.00" height="4.00" fill="#000"/>
<rect x="788.00" y="149.00" width="3.00" height="3.00" fill="#000"/>
<rect x="788.00" y="156.00" width="3.00" height="3.00" fill="#000"/>
<rect x="788.00" y="225.00" width="3.00" height="3.00" fill="#000"/>
<rect x="803.00" y="78.00" width="3.00" height="4.00" fill="#000"/>
<rect x="803.00" y="149.00" width="3.00" height="3.00" fill="#000"/>
<rect x="803.00" y="156.00" width="3.00" height="3.00" fill="#000"/>
<rect x="803.00" y="225.00" width="3.00" height="3.00" fill="#000"/>
<rect x="145.00" y="89.20" width="3.00" height="6.60" fill="#e00000"/>
<rect x="145.00" y="166.00" width="3.00" height="7.00" fill="#e00000"/>
<text x="153.00" y="97.00" font-size="10.5" text-anchor="start" font-weight="normal" fill="#909090" >3000 nm/s</text>
<text x="153.00" y="173.10" font-size="10.5" text-anchor="start" font-weight="normal" fill="#909090" >50 nm/s</text>
<text x="728.50" y="97.50" font-size="10.5" text-anchor="start" font-weight="normal" fill="#909090" >[0.1 25] Hz</text>
<text x="728.50" y="173.50" font-size="10.5" text-anchor="start" font-weight="normal" fill="#909090" >[4 15] Hz</text>
<rect x="101.00" y="690.00" width="718.00" height="1.60" fill="#200000"/>
<rect x="101.00" y="229.00" width="1.00" height="462.00" fill="#000000"/>
<rect x="102.00" y="229.00" width="1.00" height="462.00" fill="#48d0ff"/>
<rect x="115.00" y="692.00" width="3.00" height="4.00" fill="#000"/>
<rect x="130.00" y="692.00" width="3.00" height="4.00" fill="#000"/>
<rect x="145.00" y="692.00" width="3.00" height="4.00" fill="#000"/>
<rect x="160.00" y="692.00" width="3.00" height="8.00" fill="#000"/>
<text x="162.00" y="718.30" font-size="13.3" text-anchor="middle" font-weight="normal" fill="#000" >2</text>
<rect x="175.00" y="692.00" width="3.00" height="4.00" fill="#000"/>
<rect x="190.00" y="692.00" width="3.00" height="4.00" fill="#000"/>
<rect x="205.00" y="692.00" width="3.00" height="4.00" fill="#000"/>
<rect x="220.00" y="692.00" width="3.00" height="8.00" fill="#000"/>
<text x="221.80" y="718.30" font-size="13.3" text-anchor="middle" font-weight="normal" fill="#000" >4</text>
<rect x="235.00" y="692.00" width="3.00" height="4.00" fill="#000"/>
<rect x="250.00" y="692.00" width="3.00" height="4.00" fill="#000"/>
<rect x="265.00" y="692.00" width="3.00" height="4.00" fill="#000"/>
<rect x="280.00" y="692.00" width="3.00" height="8.00" fill="#000"/>
<text x="281.60" y="718.30" font-size="13.3" text-anchor="middle" font-weight="normal" fill="#000" >6</text>
<rect x="295.00" y="692.00" width="3.00" height="4.00" fill="#000"/>
<rect x="310.00" y="692.00" width="3.00" height="4.00" fill="#000"/>
<rect x="325.00" y="692.00" width="3.00" height="4.00" fill="#000"/>
<rect x="340.00" y="692.00" width="3.00" height="8.00" fill="#000"/>
<text x="341.40" y="718.30" font-size="13.3" text-anchor="middle" font-weight="normal" fill="#000" >8</text>
<rect x="355.00" y="692.00" width="3.00" height="4.00" fill="#000"/>
<rect x="370.00" y="692.00" width="3.00" height="4.00" fill="#000"/>
<rect x="384.00" y="692.00" width="3.00" height="4.00" fill="#000"/>
<rect x="399.00" y="692.00" width="3.00" height="8.00" fill="#000"/>
<text x="401.20" y="718.30" font-size="13.3" text-anchor="middle" font-weight="normal" fill="#000" >10</text>
<rect x="414.00" y="692.00" width="3.00" height="4.00" fill="#000"/>
<rect x="429.00" y="692.00" width="3.00" height="4.00" fill="#000"/>
<rect x="444.00" y="692.00" width="3.00" height="4.00" fill="#000"/>
<rect x="459.00" y="692.00" width="3.00" height="8.00" fill="#000"/>
<text x="461.00" y="718.30" font-size="13.3" text-anchor="middle" font-weight="normal" fill="#000" >12</text>
<rect x="474.00" y="692.00" width="3.00" height="4.00" fill="#000"/>
<rect x="489.00" y="692.00" width="3.00" height="4.00" fill="#000"/>
<rect x="504.00" y="692.00" width="3.00" height="4.00" fill="#000"/>
<rect x="519.00" y="692.00" width="3.00" height="8.00" fill="#000"/>
<text x="520.80" y="718.30" font-size="13.3" text-anchor="middle" font-weight="normal" fill="#000" >14</text>
<rect x="534.00" y="692.00" width="3.00" height="4.00" fill="#000"/>
<rect x="549.00" y="692.00" width="3.00" height="4.00" fill="#000"/>
<rect x="564.00" y="692.00" width="3.00" height="4.00" fill="#000"/>
<rect x="579.00" y="692.00" width="3.00" height="8.00" fill="#000"/>
<text x="580.60" y="718.30" font-size="13.3" text-anchor="middle" font-weight="normal" fill="#000" >16</text>
<rect x="594.00" y="692.00" width="3.00" height="4.00" fill="#000"/>
<rect x="609.00" y="692.00" width="3.00" height="4.00" fill="#000"/>
<rect x="624.00" y="692.00" width="3.00" height="4.00" fill="#000"/>
<rect x="639.00" y="692.00" width="3.00" height="8.00" fill="#000"/>
<text x="640.40" y="718.30" font-size="13.3" text-anchor="middle" font-weight="normal" fill="#000" >18</text>
<rect x="654.00" y="692.00" width="3.00" height="4.00" fill="#000"/>
<rect x="668.00" y="692.00" width="3.00" height="4.00" fill="#000"/>
<rect x="683.00" y="692.00" width="3.00" height="4.00" fill="#000"/>
<rect x="698.00" y="692.00" width="3.00" height="8.00" fill="#000"/>
<text x="700.20" y="718.30" font-size="13.3" text-anchor="middle" font-weight="normal" fill="#000" >20</text>
<rect x="713.00" y="692.00" width="3.00" height="4.00" fill="#000"/>
<rect x="728.00" y="692.00" width="3.00" height="4.00" fill="#000"/>
<rect x="743.00" y="692.00" width="3.00" height="4.00" fill="#000"/>
<rect x="758.00" y="692.00" width="3.00" height="8.00" fill="#000"/>
<text x="760.00" y="718.30" font-size="13.3" text-anchor="middle" font-weight="normal" fill="#000" >22</text>
<rect x="773.00" y="692.00" width="3.00" height="4.00" fill="#000"/>
<rect x="788.00" y="692.00" width="3.00" height="4.00" fill="#000"/>
<rect x="803.00" y="692.00" width="3.00" height="4.00" fill="#000"/>
<rect x="818.00" y="692.00" width="3.00" height="8.00" fill="#000"/>
<text x="819.80" y="718.30" font-size="13.3" text-anchor="middle" font-weight="normal" fill="#000" >24</text>
<rect x="97.00" y="683.00" width="4.00" height="2.70" fill="#000"/>
<rect x="97.00" y="678.00" width="4.00" height="2.70" fill="#000"/>
<rect x="97.00" y="672.00" width="4.00" height="2.70" fill="#000"/>
<rect x="93.00" y="666.00" width="8.00" height="2.70" fill="#000"/>
<text x="89.30" y="673.90" font-size="13" text-anchor="end" font-weight="normal" fill="#000" >2</text>
<rect x="97.00" y="660.00" width="4.00" height="2.70" fill="#000"/>
<rect x="97.00" y="654.00" width="4.00" height="2.70" fill="#000"/>
<rect x="97.00" y="649.00" width="4.00" height="2.70" fill="#000"/>
<rect x="97.00" y="643.00" width="4.00" height="2.70" fill="#000"/>
<rect x="97.00" y="637.00" width="4.00" height="2.70" fill="#000"/>
<rect x="97.00" y="632.00" width="4.00" height="2.70" fill="#000"/>
<rect x="97.00" y="626.00" width="4.00" height="2.70" fill="#000"/>
<rect x="93.00" y="620.00" width="8.00" height="2.70" fill="#000"/>
<text x="89.30" y="627.90" font-size="13" text-anchor="end" font-weight="normal" fill="#000" >6</text>
<rect x="97.00" y="614.00" width="4.00" height="2.70" fill="#000"/>
<rect x="97.00" y="608.00" width="4.00" height="2.70" fill="#000"/>
<rect x="97.00" y="603.00" width="4.00" height="2.70" fill="#000"/>
<rect x="97.00" y="597.00" width="4.00" height="2.70" fill="#000"/>
<rect x="97.00" y="591.00" width="4.00" height="2.70" fill="#000"/>
<rect x="97.00" y="586.00" width="4.00" height="2.70" fill="#000"/>
<rect x="97.00" y="580.00" width="4.00" height="2.70" fill="#000"/>
<rect x="93.00" y="574.00" width="8.00" height="2.70" fill="#000"/>
<text x="89.30" y="581.90" font-size="13" text-anchor="end" font-weight="normal" fill="#000" >10</text>
<rect x="97.00" y="568.00" width="4.00" height="2.70" fill="#000"/>
<rect x="97.00" y="562.00" width="4.00" height="2.70" fill="#000"/>
<rect x="97.00" y="557.00" width="4.00" height="2.70" fill="#000"/>
<rect x="97.00" y="551.00" width="4.00" height="2.70" fill="#000"/>
<rect x="97.00" y="545.00" width="4.00" height="2.70" fill="#000"/>
<rect x="97.00" y="540.00" width="4.00" height="2.70" fill="#000"/>
<rect x="97.00" y="534.00" width="4.00" height="2.70" fill="#000"/>
<rect x="93.00" y="528.00" width="8.00" height="2.70" fill="#000"/>
<text x="89.30" y="535.90" font-size="13" text-anchor="end" font-weight="normal" fill="#000" >14</text>
<rect x="97.00" y="522.00" width="4.00" height="2.70" fill="#000"/>
<rect x="97.00" y="516.00" width="4.00" height="2.70" fill="#000"/>
<rect x="97.00" y="511.00" width="4.00" height="2.70" fill="#000"/>
<rect x="97.00" y="505.00" width="4.00" height="2.70" fill="#000"/>
<rect x="97.00" y="499.00" width="4.00" height="2.70" fill="#000"/>
<rect x="97.00" y="494.00" width="4.00" height="2.70" fill="#000"/>
<rect x="97.00" y="488.00" width="4.00" height="2.70" fill="#000"/>
<rect x="93.00" y="482.00" width="8.00" height="2.70" fill="#000"/>
<text x="89.30" y="489.90" font-size="13" text-anchor="end" font-weight="normal" fill="#000" >18</text>
<rect x="97.00" y="476.00" width="4.00" height="2.70" fill="#000"/>
<rect x="97.00" y="470.00" width="4.00" height="2.70" fill="#000"/>
<rect x="97.00" y="465.00" width="4.00" height="2.70" fill="#000"/>
<rect x="97.00" y="459.00" width="4.00" height="2.70" fill="#000"/>
<rect x="97.00" y="453.00" width="4.00" height="2.70" fill="#000"/>
<rect x="97.00" y="448.00" width="4.00" height="2.70" fill="#000"/>
<rect x="97.00" y="442.00" width="4.00" height="2.70" fill="#000"/>
<rect x="93.00" y="436.00" width="8.00" height="2.70" fill="#000"/>
<text x="89.30" y="443.90" font-size="13" text-anchor="end" font-weight="normal" fill="#000" >22</text>
<rect x="97.00" y="430.00" width="4.00" height="2.70" fill="#000"/>
<rect x="97.00" y="424.00" width="4.00" height="2.70" fill="#000"/>
<rect x="97.00" y="419.00" width="4.00" height="2.70" fill="#000"/>
<rect x="97.00" y="413.00" width="4.00" height="2.70" fill="#000"/>
<rect x="97.00" y="407.00" width="4.00" height="2.70" fill="#000"/>
<rect x="97.00" y="402.00" width="4.00" height="2.70" fill="#000"/>
<rect x="97.00" y="396.00" width="4.00" height="2.70" fill="#000"/>
<rect x="93.00" y="390.00" width="8.00" height="2.70" fill="#000"/>
<text x="89.30" y="397.90" font-size="13" text-anchor="end" font-weight="normal" fill="#000" >26</text>
<rect x="97.00" y="384.00" width="4.00" height="2.70" fill="#000"/>
<rect x="97.00" y="378.00" width="4.00" height="2.70" fill="#000"/>
<rect x="97.00" y="373.00" width="4.00" height="2.70" fill="#000"/>
<rect x="97.00" y="367.00" width="4.00" height="2.70" fill="#000"/>
<rect x="97.00" y="361.00" width="4.00" height="2.70" fill="#000"/>
<rect x="97.00" y="356.00" width="4.00" height="2.70" fill="#000"/>
<rect x="97.00" y="350.00" width="4.00" height="2.70" fill="#000"/>
<rect x="93.00" y="344.00" width="8.00" height="2.70" fill="#000"/>
<text x="89.30" y="351.90" font-size="13" text-anchor="end" font-weight="normal" fill="#000" >30</text>
<rect x="97.00" y="338.00" width="4.00" height="2.70" fill="#000"/>
<rect x="97.00" y="332.00" width="4.00" height="2.70" fill="#000"/>
<rect x="97.00" y="327.00" width="4.00" height="2.70" fill="#000"/>
<rect x="97.00" y="321.00" width="4.00" height="2.70" fill="#000"/>
<rect x="97.00" y="315.00" width="4.00" height="2.70" fill="#000"/>
<rect x="97.00" y="310.00" width="4.00" height="2.70" fill="#000"/>
<rect x="97.00" y="304.00" width="4.00" height="2.70" fill="#000"/>
<rect x="93.00" y="298.00" width="8.00" height="2.70" fill="#000"/>
<text x="89.30" y="305.90" font-size="13" text-anchor="end" font-weight="normal" fill="#000" >34</text>
<rect x="97.00" y="292.00" width="4.00" height="2.70" fill="#000"/>
<rect x="97.00" y="286.00" width="4.00" height="2.70" fill="#000"/>
<rect x="97.00" y="281.00" width="4.00" height="2.70" fill="#000"/>
<rect x="97.00" y="275.00" width="4.00" height="2.70" fill="#000"/>
<rect x="97.00" y="269.00" width="4.00" height="2.70" fill="#000"/>
<rect x="97.00" y="264.00" width="4.00" height="2.70" fill="#000"/>
<rect x="97.00" y="258.00" width="4.00" height="2.70" fill="#000"/>
<rect x="93.00" y="252.00" width="8.00" height="2.70" fill="#000"/>
<text x="89.30" y="259.90" font-size="13" text-anchor="end" font-weight="normal" fill="#000" >38</text>
<rect x="97.00" y="246.00" width="4.00" height="2.70" fill="#000"/>
<rect x="97.00" y="240.00" width="4.00" height="2.70" fill="#000"/>
<rect x="97.00" y="235.00" width="4.00" height="2.70" fill="#000"/>
<rect x="97.00" y="229.00" width="4.00" height="2.70" fill="#000"/>
<text x="463.30" y="738.80" font-size="16" text-anchor="middle" font-weight="normal" fill="#000" >Tiempo (horas) - UTC</text>
<text x="0.00" y="0.00" font-size="16.3" text-anchor="middle" font-weight="normal" fill="#000" transform="translate(45.3 460.3) rotate(-90)" xml:space="preserve">Frecuencia  (Hz)</text>
<rect x="817.60" y="229.00" width="3.20" height="463.00" fill="#000"/>
<polyline points="821.8,403.0 821.8,405.6 821.8,408.2 821.8,410.7 821.8,413.3 821.8,415.9 821.8,418.5 821.7,421.0 821.7,423.6 821.7,426.2 821.7,428.8 821.7,431.3 821.7,433.9 821.7,436.5 821.7,439.1 821.7,441.7 821.7,444.2 821.7,446.8 821.7,449.4 821.7,452.0 821.6,454.5 821.6,457.1 821.6,459.7 821.6,462.3 821.6,464.8 821.6,467.4 821.6,470.0 821.6,472.5 821.6,475.0 821.6,477.5 821.6,480.0 821.6,482.5 821.6,485.0 821.6,487.5 821.6,490.0 821.6,492.5 821.6,495.0 821.6,497.5 821.6,500.0 821.6,502.5 821.5,505.0 821.5,507.5 821.5,510.0 821.5,512.5 821.5,515.0 821.5,517.5 821.5,520.0 821.5,522.5 821.5,525.0 821.5,527.5 821.5,530.0 821.5,532.5 821.5,535.0 821.5,537.5 821.5,540.0 821.5,542.5 821.4,545.0 821.4,547.5 821.4,550.0 821.3,552.5 821.3,555.0 821.2,557.5 821.2,560.0 821.9,562.6 821.2,565.3 822.1,567.9 821.7,570.5 822.5,573.2 821.5,575.8 822.0,578.4 822.8,581.1 822.8,583.8 822.9,586.4 823.5,589.3 823.2,592.2 823.9,595.1 823.6,597.8 825.1,600.4 824.6,603.1 825.8,605.7 825.7,608.6 826.0,611.6 826.2,614.5 825.7,617.4 826.8,620.4 826.2,623.3 827.2,626.5 827.2,629.8 827.2,633.0 827.6,635.9 827.2,638.8 827.7,641.7 828.7,644.9 828.1,648.2 828.6,651.4 829.9,654.3 831.0,657.3 831.3,660.2 833.6,662.9 836.8,665.5 839.6,669.0 842.7,672.5 846.3,675.1 850.4,677.8 856.9,682.1 863.4,685.7 865.1,689.2 868.0,690.2 897.0,690.2" fill="none" stroke="#0000b0" stroke-width="1.5"/>
<path d="M821 575.8H834.3" stroke="#0000a0" stroke-width="1.2"/>
<path d="M821 595.1H828.2" stroke="#0000a0" stroke-width="1.2"/>
<path d="M821 614.5H831.7" stroke="#0000a0" stroke-width="1.2"/>
<path d="M821 633H831.7" stroke="#0000a0" stroke-width="1.2"/>
<path d="M821 641.7H830.5" stroke="#0000a0" stroke-width="1.2"/>
<rect x="819.00" y="229.00" width="78.50" height="2.80" fill="#000"/>
<rect x="819.00" y="688.80" width="78.50" height="3.00" fill="#000"/>
<rect x="894.30" y="229.00" width="3.20" height="463.00" fill="#000"/>
<rect x="820.50" y="683.00" width="2.50" height="2.70" fill="#000"/>
<rect x="891.50" y="683.00" width="2.50" height="2.70" fill="#000"/>
<rect x="820.50" y="678.00" width="2.50" height="2.70" fill="#000"/>
<rect x="891.50" y="678.00" width="2.50" height="2.70" fill="#000"/>
<rect x="820.50" y="672.00" width="2.50" height="2.70" fill="#000"/>
<rect x="891.50" y="672.00" width="2.50" height="2.70" fill="#000"/>
<rect x="820.50" y="666.00" width="4.00" height="2.70" fill="#000"/>
<rect x="890.00" y="666.00" width="4.00" height="2.70" fill="#000"/>
<rect x="820.50" y="660.00" width="2.50" height="2.70" fill="#000"/>
<rect x="891.50" y="660.00" width="2.50" height="2.70" fill="#000"/>
<rect x="820.50" y="654.00" width="2.50" height="2.70" fill="#000"/>
<rect x="891.50" y="654.00" width="2.50" height="2.70" fill="#000"/>
<rect x="820.50" y="649.00" width="2.50" height="2.70" fill="#000"/>
<rect x="891.50" y="649.00" width="2.50" height="2.70" fill="#000"/>
<rect x="820.50" y="643.00" width="2.50" height="2.70" fill="#000"/>
<rect x="891.50" y="643.00" width="2.50" height="2.70" fill="#000"/>
<rect x="820.50" y="637.00" width="2.50" height="2.70" fill="#000"/>
<rect x="891.50" y="637.00" width="2.50" height="2.70" fill="#000"/>
<rect x="820.50" y="632.00" width="2.50" height="2.70" fill="#000"/>
<rect x="891.50" y="632.00" width="2.50" height="2.70" fill="#000"/>
<rect x="820.50" y="626.00" width="2.50" height="2.70" fill="#000"/>
<rect x="891.50" y="626.00" width="2.50" height="2.70" fill="#000"/>
<rect x="820.50" y="620.00" width="4.00" height="2.70" fill="#000"/>
<rect x="890.00" y="620.00" width="4.00" height="2.70" fill="#000"/>
<rect x="820.50" y="614.00" width="2.50" height="2.70" fill="#000"/>
<rect x="891.50" y="614.00" width="2.50" height="2.70" fill="#000"/>
<rect x="820.50" y="608.00" width="2.50" height="2.70" fill="#000"/>
<rect x="891.50" y="608.00" width="2.50" height="2.70" fill="#000"/>
<rect x="820.50" y="603.00" width="2.50" height="2.70" fill="#000"/>
<rect x="891.50" y="603.00" width="2.50" height="2.70" fill="#000"/>
<rect x="820.50" y="597.00" width="2.50" height="2.70" fill="#000"/>
<rect x="891.50" y="597.00" width="2.50" height="2.70" fill="#000"/>
<rect x="820.50" y="591.00" width="2.50" height="2.70" fill="#000"/>
<rect x="891.50" y="591.00" width="2.50" height="2.70" fill="#000"/>
<rect x="820.50" y="586.00" width="2.50" height="2.70" fill="#000"/>
<rect x="891.50" y="586.00" width="2.50" height="2.70" fill="#000"/>
<rect x="820.50" y="580.00" width="2.50" height="2.70" fill="#000"/>
<rect x="891.50" y="580.00" width="2.50" height="2.70" fill="#000"/>
<rect x="820.50" y="574.00" width="4.00" height="2.70" fill="#000"/>
<rect x="890.00" y="574.00" width="4.00" height="2.70" fill="#000"/>
<rect x="820.50" y="568.00" width="2.50" height="2.70" fill="#000"/>
<rect x="891.50" y="568.00" width="2.50" height="2.70" fill="#000"/>
<rect x="820.50" y="562.00" width="2.50" height="2.70" fill="#000"/>
<rect x="891.50" y="562.00" width="2.50" height="2.70" fill="#000"/>
<rect x="820.50" y="557.00" width="2.50" height="2.70" fill="#000"/>
<rect x="891.50" y="557.00" width="2.50" height="2.70" fill="#000"/>
<rect x="820.50" y="551.00" width="2.50" height="2.70" fill="#000"/>
<rect x="891.50" y="551.00" width="2.50" height="2.70" fill="#000"/>
<rect x="820.50" y="545.00" width="2.50" height="2.70" fill="#000"/>
<rect x="891.50" y="545.00" width="2.50" height="2.70" fill="#000"/>
<rect x="820.50" y="540.00" width="2.50" height="2.70" fill="#000"/>
<rect x="891.50" y="540.00" width="2.50" height="2.70" fill="#000"/>
<rect x="820.50" y="534.00" width="2.50" height="2.70" fill="#000"/>
<rect x="891.50" y="534.00" width="2.50" height="2.70" fill="#000"/>
<rect x="820.50" y="528.00" width="4.00" height="2.70" fill="#000"/>
<rect x="890.00" y="528.00" width="4.00" height="2.70" fill="#000"/>
<rect x="820.50" y="522.00" width="2.50" height="2.70" fill="#000"/>
<rect x="891.50" y="522.00" width="2.50" height="2.70" fill="#000"/>
<rect x="820.50" y="516.00" width="2.50" height="2.70" fill="#000"/>
<rect x="891.50" y="516.00" width="2.50" height="2.70" fill="#000"/>
<rect x="820.50" y="511.00" width="2.50" height="2.70" fill="#000"/>
<rect x="891.50" y="511.00" width="2.50" height="2.70" fill="#000"/>
<rect x="820.50" y="505.00" width="2.50" height="2.70" fill="#000"/>
<rect x="891.50" y="505.00" width="2.50" height="2.70" fill="#000"/>
<rect x="820.50" y="499.00" width="2.50" height="2.70" fill="#000"/>
<rect x="891.50" y="499.00" width="2.50" height="2.70" fill="#000"/>
<rect x="820.50" y="494.00" width="2.50" height="2.70" fill="#000"/>
<rect x="891.50" y="494.00" width="2.50" height="2.70" fill="#000"/>
<rect x="820.50" y="488.00" width="2.50" height="2.70" fill="#000"/>
<rect x="891.50" y="488.00" width="2.50" height="2.70" fill="#000"/>
<rect x="820.50" y="482.00" width="4.00" height="2.70" fill="#000"/>
<rect x="890.00" y="482.00" width="4.00" height="2.70" fill="#000"/>
<rect x="820.50" y="476.00" width="2.50" height="2.70" fill="#000"/>
<rect x="891.50" y="476.00" width="2.50" height="2.70" fill="#000"/>
<rect x="820.50" y="470.00" width="2.50" height="2.70" fill="#000"/>
<rect x="891.50" y="470.00" width="2.50" height="2.70" fill="#000"/>
<rect x="820.50" y="465.00" width="2.50" height="2.70" fill="#000"/>
<rect x="891.50" y="465.00" width="2.50" height="2.70" fill="#000"/>
<rect x="820.50" y="459.00" width="2.50" height="2.70" fill="#000"/>
<rect x="891.50" y="459.00" width="2.50" height="2.70" fill="#000"/>
<rect x="820.50" y="453.00" width="2.50" height="2.70" fill="#000"/>
<rect x="891.50" y="453.00" width="2.50" height="2.70" fill="#000"/>
<rect x="820.50" y="448.00" width="2.50" height="2.70" fill="#000"/>
<rect x="891.50" y="448.00" width="2.50" height="2.70" fill="#000"/>
<rect x="820.50" y="442.00" width="2.50" height="2.70" fill="#000"/>
<rect x="891.50" y="442.00" width="2.50" height="2.70" fill="#000"/>
<rect x="820.50" y="436.00" width="4.00" height="2.70" fill="#000"/>
<rect x="890.00" y="436.00" width="4.00" height="2.70" fill="#000"/>
<rect x="820.50" y="430.00" width="2.50" height="2.70" fill="#000"/>
<rect x="891.50" y="430.00" width="2.50" height="2.70" fill="#000"/>
<rect x="820.50" y="424.00" width="2.50" height="2.70" fill="#000"/>
<rect x="891.50" y="424.00" width="2.50" height="2.70" fill="#000"/>
<rect x="820.50" y="419.00" width="2.50" height="2.70" fill="#000"/>
<rect x="891.50" y="419.00" width="2.50" height="2.70" fill="#000"/>
<rect x="820.50" y="413.00" width="2.50" height="2.70" fill="#000"/>
<rect x="891.50" y="413.00" width="2.50" height="2.70" fill="#000"/>
<rect x="820.50" y="407.00" width="2.50" height="2.70" fill="#000"/>
<rect x="891.50" y="407.00" width="2.50" height="2.70" fill="#000"/>
<rect x="820.50" y="402.00" width="2.50" height="2.70" fill="#000"/>
<rect x="891.50" y="402.00" width="2.50" height="2.70" fill="#000"/>
<rect x="820.50" y="396.00" width="2.50" height="2.70" fill="#000"/>
<rect x="891.50" y="396.00" width="2.50" height="2.70" fill="#000"/>
<rect x="820.50" y="390.00" width="4.00" height="2.70" fill="#000"/>
<rect x="890.00" y="390.00" width="4.00" height="2.70" fill="#000"/>
<rect x="820.50" y="384.00" width="2.50" height="2.70" fill="#000"/>
<rect x="891.50" y="384.00" width="2.50" height="2.70" fill="#000"/>
<rect x="820.50" y="378.00" width="2.50" height="2.70" fill="#000"/>
<rect x="891.50" y="378.00" width="2.50" height="2.70" fill="#000"/>
<rect x="820.50" y="373.00" width="2.50" height="2.70" fill="#000"/>
<rect x="891.50" y="373.00" width="2.50" height="2.70" fill="#000"/>
<rect x="820.50" y="367.00" width="2.50" height="2.70" fill="#000"/>
<rect x="891.50" y="367.00" width="2.50" height="2.70" fill="#000"/>
<rect x="820.50" y="361.00" width="2.50" height="2.70" fill="#000"/>
<rect x="891.50" y="361.00" width="2.50" height="2.70" fill="#000"/>
<rect x="820.50" y="356.00" width="2.50" height="2.70" fill="#000"/>
<rect x="891.50" y="356.00" width="2.50" height="2.70" fill="#000"/>
<rect x="820.50" y="350.00" width="2.50" height="2.70" fill="#000"/>
<rect x="891.50" y="350.00" width="2.50" height="2.70" fill="#000"/>
<rect x="820.50" y="344.00" width="4.00" height="2.70" fill="#000"/>
<rect x="890.00" y="344.00" width="4.00" height="2.70" fill="#000"/>
<rect x="820.50" y="338.00" width="2.50" height="2.70" fill="#000"/>
<rect x="891.50" y="338.00" width="2.50" height="2.70" fill="#000"/>
<rect x="820.50" y="332.00" width="2.50" height="2.70" fill="#000"/>
<rect x="891.50" y="332.00" width="2.50" height="2.70" fill="#000"/>
<rect x="820.50" y="327.00" width="2.50" height="2.70" fill="#000"/>
<rect x="891.50" y="327.00" width="2.50" height="2.70" fill="#000"/>
<rect x="820.50" y="321.00" width="2.50" height="2.70" fill="#000"/>
<rect x="891.50" y="321.00" width="2.50" height="2.70" fill="#000"/>
<rect x="820.50" y="315.00" width="2.50" height="2.70" fill="#000"/>
<rect x="891.50" y="315.00" width="2.50" height="2.70" fill="#000"/>
<rect x="820.50" y="310.00" width="2.50" height="2.70" fill="#000"/>
<rect x="891.50" y="310.00" width="2.50" height="2.70" fill="#000"/>
<rect x="820.50" y="304.00" width="2.50" height="2.70" fill="#000"/>
<rect x="891.50" y="304.00" width="2.50" height="2.70" fill="#000"/>
<rect x="820.50" y="298.00" width="4.00" height="2.70" fill="#000"/>
<rect x="890.00" y="298.00" width="4.00" height="2.70" fill="#000"/>
<rect x="820.50" y="292.00" width="2.50" height="2.70" fill="#000"/>
<rect x="891.50" y="292.00" width="2.50" height="2.70" fill="#000"/>
<rect x="820.50" y="286.00" width="2.50" height="2.70" fill="#000"/>
<rect x="891.50" y="286.00" width="2.50" height="2.70" fill="#000"/>
<rect x="820.50" y="281.00" width="2.50" height="2.70" fill="#000"/>
<rect x="891.50" y="281.00" width="2.50" height="2.70" fill="#000"/>
<rect x="820.50" y="275.00" width="2.50" height="2.70" fill="#000"/>
<rect x="891.50" y="275.00" width="2.50" height="2.70" fill="#000"/>
<rect x="820.50" y="269.00" width="2.50" height="2.70" fill="#000"/>
<rect x="891.50" y="269.00" width="2.50" height="2.70" fill="#000"/>
<rect x="820.50" y="264.00" width="2.50" height="2.70" fill="#000"/>
<rect x="891.50" y="264.00" width="2.50" height="2.70" fill="#000"/>
<rect x="820.50" y="258.00" width="2.50" height="2.70" fill="#000"/>
<rect x="891.50" y="258.00" width="2.50" height="2.70" fill="#000"/>
<rect x="820.50" y="252.00" width="4.00" height="2.70" fill="#000"/>
<rect x="890.00" y="252.00" width="4.00" height="2.70" fill="#000"/>
<rect x="820.50" y="246.00" width="2.50" height="2.70" fill="#000"/>
<rect x="891.50" y="246.00" width="2.50" height="2.70" fill="#000"/>
<rect x="820.50" y="240.00" width="2.50" height="2.70" fill="#000"/>
<rect x="891.50" y="240.00" width="2.50" height="2.70" fill="#000"/>
<rect x="820.50" y="235.00" width="2.50" height="2.70" fill="#000"/>
<rect x="891.50" y="235.00" width="2.50" height="2.70" fill="#000"/>
<path d="M864 690H897" stroke="#0000a0" stroke-width="2"/>
<text x="858.00" y="210.60" font-size="10" text-anchor="middle" font-weight="bold" fill="#000" >PSD</text>
<text x="857.60" y="224.70" font-size="10.3" text-anchor="middle" font-weight="bold" fill="#000" >Normalizado</text>
<defs><linearGradient id="jet" x1="0" y1="1" x2="0" y2="0"><stop offset="0" stop-color="#000080"/><stop offset="0.125" stop-color="#0000ff"/><stop offset="0.375" stop-color="#00ffff"/><stop offset="0.625" stop-color="#ffff00"/><stop offset="0.875" stop-color="#ff0000"/><stop offset="1" stop-color="#800000"/></linearGradient></defs>
<rect x="931.00" y="230.20" width="8.80" height="461.50" fill="url(#jet)"/>
<rect x="936.00" y="691.20" width="3.80" height="1.00" fill="#333"/>
<text x="944.00" y="695.70" font-size="11" text-anchor="start" font-weight="normal" fill="#333" >2</text>
<rect x="936.00" y="620.26" width="3.80" height="1.00" fill="#333"/>
<text x="944.00" y="624.76" font-size="11" text-anchor="start" font-weight="normal" fill="#333" >4</text>
<rect x="936.00" y="549.32" width="3.80" height="1.00" fill="#333"/>
<text x="944.00" y="553.82" font-size="11" text-anchor="start" font-weight="normal" fill="#333" >6</text>
<rect x="936.00" y="478.38" width="3.80" height="1.00" fill="#333"/>
<text x="944.00" y="482.88" font-size="11" text-anchor="start" font-weight="normal" fill="#333" >8</text>
<rect x="936.00" y="407.44" width="3.80" height="1.00" fill="#333"/>
<text x="944.00" y="411.94" font-size="11" text-anchor="start" font-weight="normal" fill="#333" >10</text>
<rect x="936.00" y="336.50" width="3.80" height="1.00" fill="#333"/>
<text x="944.00" y="341.00" font-size="11" text-anchor="start" font-weight="normal" fill="#333" >12</text>
<rect x="936.00" y="265.56" width="3.80" height="1.00" fill="#333"/>
<text x="944.00" y="270.06" font-size="11" text-anchor="start" font-weight="normal" fill="#333" >14</text>
<text x="934.20" y="223.10" font-size="11" text-anchor="middle" font-weight="normal" fill="#333" >dB</text>
</svg>
<script>
(function(){
var cv=document.getElementById('cv'); if(!cv||!cv.getContext) return;
var ctx=cv.getContext('2d'); var W=630,H=462;
var img=ctx.createImageData(W,H); var d=img.data;
var s=2463534242;
function rnd(){ s^=s<<13; s^=s>>>17; s^=s<<5; return ((s>>>0)+0.5)/4294967296; }
function cl(v){return v<0?0:(v>1?1:v);}
function interp(tab,x){ if(x<=tab[0][0]) return tab[0][1]; for(var k=1;k<tab.length;k++){ if(x<=tab[k][0]){ var a=tab[k-1],b=tab[k]; return a[1]+(b[1]-a[1])*(x-a[0])/(b[0]-a[0]); } } return tab[tab.length-1][1]; }
var base=[[0,13.2],[0.23,12.3],[0.66,11.0],[1.09,9.8],[1.79,8.3],[2.48,7.15],[3.17,6.6],[4.3,6.1],[5.6,5.7],[6.9,5.35],[8.3,5.0],[9.9,4.85],[10.1,4.8],[12,4.7],[14,4.75],[15.5,4.95],[17,5.2],[20,5.3],[25,5.35],[40,5.4]];
function mu(f,h){
  var v=interp(base,f);
  // middle times lighter (streak zone)
  var w = cl((h-8.8)/1.6)*cl((18.6-h)/1.4);
  var fw = cl((24-f)/8)*cl((f-2.5)/2);
  v += 0.45*w*fw;
  // right side: dark band extends higher
  var wl = cl((h-9)/1.5)*cl((19-h)/1.5);
  v += 0.3*wl*cl((f-1.5)/1.5)*cl((9-f)/3);
  var wr = cl((h-18.3)/0.8);
  if(f>15 && f<21) v -= 0.3*wr*cl((f-15)/2)*cl((21-f)/2);
  v -= 0.2*wr*cl((f-3)/2)*cl((10-f)/1);
  return v;
}
var V=new Float32Array(W*H);
var streaks=[[394,0.7,4,26],[402,0.5,5,22],[419,0.4,5,20],[427,0.7,4,26],[438,0.5,5,20],[447,0.7,4,26],[474,0.5,5,22],[480,0.6,4,22],[499,0.5,5,22],[513,0.7,4,26],[520,0.7,4,22],[528,0.4,5,20],[546,0.6,4,22],[556,0.5,5,20],[568,0.4,5,20],[577,0.7,4,24],[587,0.5,5,20],[629,0.8,4.5,24],[649,0.8,4.5,24]];
for(var j=0;j<H;j++){
  var f=(690.5-(229+j+0.5))/11.5;
  for(var i=0;i<W;i++){
    var h=(101+i+0.5-101.5)/29.92;
    var m=mu(f,h);
    var E=-Math.log(rnd());
    var nn=Math.log(E)+0.577; if(nn<-3.6) nn=-3.6-0.3*(-3.6-nn);
    var v=m+0.5*nn;
    V[j*W+i]=v;
  }
}
function addCol(x,dv,f0,f1){ var i=Math.round(x)-101; if(i<0||i>=W) return; for(var j=0;j<H;j++){ var f=(690.5-(229+j+0.5))/11.5; if(f>=f0&&f<=f1){ var r=Math.min(1,(f1-f)/3,(f-f0)/1.5+0.3); V[j*W+i]+=dv*r; } } }
function addRow(y,dv,x0,x1){ var j=Math.round(y)-229; if(j<0||j>=H) return; for(var i=0;i<W;i++){ var x=101+i; if(x>=x0&&x<=x1) V[j*W+i]+=dv; } }
for(var k=0;k<streaks.length;k++){ var st=streaks[k]; addCol(st[0], st[1]*0.8, st[2], st[3]); addCol(st[0]+1, st[1]*0.5, st[2], st[3]); addCol(st[0]-1, st[1]*0.3, st[2], st[3]); }
addRow(575,3.2,101,338);addRow(575,2.0,338,392);addRow(575,3.2,392,731);
addRow(571,1.8,682,731);
addCol(614,2.4,11.2,44);
addCol(126,0.7,4,26);
addCol(394,0.4,8,26);
addRow(560,1.4,140,160);
addRow(640,1.1,326,485);
addRow(586,0.9,335,360);addRow(588,0.9,365,385);addRow(592,0.8,395,415);addRow(583,0.8,400,440);
var R=new Float32Array(W*H),G=new Float32Array(W*H),B=new Float32Array(W*H);
for(var p=0;p<W*H;p++){ var t=cl((V[p]-2)/13); R[p]=cl(1.5-Math.abs(4*t-3)); G[p]=cl(1.5-Math.abs(4*t-2)); B[p]=cl(1.5-Math.abs(4*t-1)); }
function blur(A){ var T=new Float32Array(W*H); for(var j=0;j<H;j++){ for(var i=0;i<W;i++){ var a=A[j*W+(i>0?i-1:i)], b=A[j*W+i], c=A[j*W+(i<W-1?i+1:i)]; T[j*W+i]=(a+2*b+c)/4; } }
  var U=new Float32Array(W*H); for(var j=0;j<H;j++){ for(var i=0;i<W;i++){ var a=T[(j>0?j-1:j)*W+i], b=T[j*W+i], c=T[(j<H-1?j+1:j)*W+i]; U[j*W+i]=(a+2*b+c)/4; } } return U; }
// JPEG-like: keep luma sharp-ish, blur chroma
var N=W*H, Yl=new Float32Array(N), Cb=new Float32Array(N), Cr=new Float32Array(N);
for(var p=0;p<N;p++){ var r=R[p],g=G[p],b=B[p]; Yl[p]=0.299*r+0.587*g+0.114*b; Cb[p]=-0.168736*r-0.331264*g+0.5*b; Cr[p]=0.5*r-0.418688*g-0.081312*b; }
var Cb2=blur(blur(Cb)), Cr2=blur(blur(Cr)), Y2=blur(Yl);
for(var p=0;p<N;p++){ var y=0.85*Yl[p]+0.15*Y2[p], cb=Cb2[p], cr=Cr2[p]; var k=p*4;
  d[k]=255*cl(y+1.402*cr); d[k+1]=255*cl(y-0.344136*cb-0.714136*cr); d[k+2]=255*cl(y+1.772*cb); d[k+3]=255; }
ctx.putImageData(img,0,0);
})();

</script>
</body></html>
